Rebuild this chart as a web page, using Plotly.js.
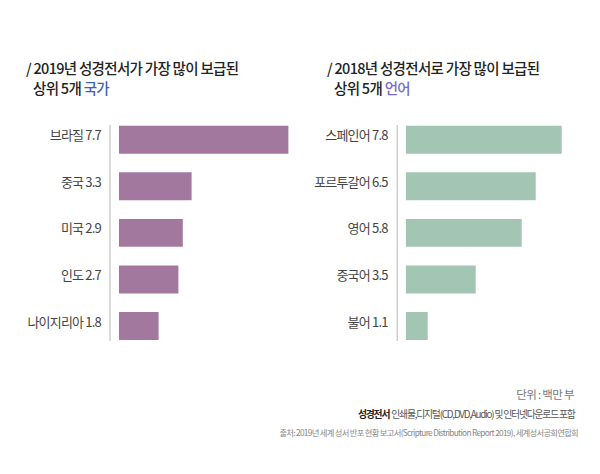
<!DOCTYPE html>
<html><head><meta charset="utf-8">
<script src="https://cdn.plot.ly/plotly-3.0.1.min.js"></script>
<style>
html,body{margin:0;padding:0;background:#fff;}
#chart{width:600px;height:474px;}
#chart .ytick text, #chart .y2tick text{letter-spacing:-0.8px;}
#chart .annotation-text{letter-spacing:-0.7px;}
#chart .annotation[data-index="5"] .annotation-text{letter-spacing:-1.2px;}
</style>
</head><body>
<div id="chart"></div>
<script>
// Left chart: 2019 top 5 countries (millions)
const countries = ['브라질', '중국', '미국', '인도', '나이지리아'];
const countryValues = [7.7, 3.3, 2.9, 2.7, 1.8];
// Right chart: 2018 top 5 languages (millions)
const languages = ['스페인어', '포르투갈어', '영어', '중국어', '불어'];
const languageValues = [7.8, 6.5, 5.8, 3.5, 1.1];

const leftTitle1 = '/ 2019년 성경전서가 가장 많이 보급된';
const leftTitle2a = '상위 5개 ';
const leftTitle2b = '국가';
const rightTitle1 = '/ 2018년 성경전서로 가장 많이 보급된';
const rightTitle2a = '상위 5개 ';
const rightTitle2b = '언어';
const unitText = '단위 : 백만 부';
const noteBold = '성경전서';
const noteText = '인쇄물,디지털(CD,DVD,Audio) 및 인터넷다운로드 포함';
const sourceText = '출처: 2019년 세계 성서 반포 현황 보고서(Scripture Distribution Report 2019), 세계성서공회연합회';

const countryLabels = countries.map((c, i) => c + ' ' + countryValues[i].toFixed(1));
const languageLabels = languages.map((c, i) => c + ' ' + languageValues[i].toFixed(1));

const FONT = '"Noto Sans CJK KR", "Noto Sans", sans-serif';

const traces = [
  {type: 'bar', orientation: 'h', x: countryValues, y: countryLabels,
   xaxis: 'x', yaxis: 'y', width: 0.6,
   marker: {color: '#a3789f', line: {width: 0}}, hoverinfo: 'none'},
  {type: 'bar', orientation: 'h', x: languageValues, y: languageLabels,
   xaxis: 'x2', yaxis: 'y2', width: 0.6,
   marker: {color: '#a3c5b3', line: {width: 0}}, hoverinfo: 'none'}
];

const yTop = 1 - 116.4 / 474, yBot = 1 - 349.3 / 474;
const yAxisCommon = {
  domain: [yBot, yTop], autorange: 'reversed', type: 'category',
  showgrid: false, zeroline: false, showline: false, ticks: '',
  tickfont: {family: FONT, size: 13, color: '#444'},
  ticklabelstandoff: 17, ticklabelshift: 4
};
const xAxisCommon = {range: [0, 8], showgrid: false, zeroline: false,
  showline: false, showticklabels: false, ticks: ''};

const NB = '\u00a0';
const titleFont = {family: FONT, size: 14.5, color: '#222', weight: 500};
function ann(text, x, y, xanchor, font) {
  return {text: text, x: x / 600, y: 1 - y / 474, xref: 'paper', yref: 'paper',
    xanchor: xanchor, yanchor: 'middle', align: xanchor, showarrow: false, font: font};
}

const layout = {
  width: 600, height: 474,
  margin: {l: 0, r: 0, t: 0, b: 0},
  paper_bgcolor: '#fff', plot_bgcolor: 'rgba(0,0,0,0)',
  showlegend: false,
  font: {family: FONT},
  xaxis: Object.assign({}, xAxisCommon, {domain: [119/600, (119+176)/600], anchor: 'y'}),
  yaxis: Object.assign({}, yAxisCommon, {anchor: 'x'}),
  xaxis2: Object.assign({}, xAxisCommon, {domain: [405.7/600, (405.7+160)/600], anchor: 'y2'}),
  yaxis2: Object.assign({}, yAxisCommon, {anchor: 'x2'}),
  shapes: [
    {type: 'line', xref: 'paper', yref: 'paper', x0: 110/600, x1: 110/600,
     y0: 1 - 125/474, y1: 1 - 341/474, line: {color: '#cfcfcf', width: 1.5}},
    {type: 'line', xref: 'paper', yref: 'paper', x0: 397.3/600, x1: 397.3/600,
     y0: 1 - 125/474, y1: 1 - 341/474, line: {color: '#cfcfcf', width: 1.5}}
  ],
  annotations: [
    ann(leftTitle1, 24, 67.5, 'left', titleFont),
    ann(leftTitle2a + '<span style="color:#3d63b5">' + leftTitle2b + '</span>', 30.5, 88, 'left', titleFont),
    ann(rightTitle1, 325, 67.5, 'left', titleFont),
    ann(rightTitle2a + '<span style="color:#7a6cc4">' + rightTitle2b + '</span>', 331.5, 88, 'left', titleFont),
    ann(unitText, 576, 394, 'right', {family: FONT, size: 11.5, color: '#777'}),
    ann('<b>' + noteBold + '</b>' + NB + NB + '<span style="color:#555">' + noteText + '</span>',
        577, 413.5, 'right', {family: FONT, size: 9.8, color: '#222'}),
    ann(sourceText, 580, 432, 'right', {family: FONT, size: 8.3, color: '#888'})
  ]
};

Plotly.newPlot('chart', traces, layout, {displayModeBar: false, staticPlot: true});
</script>
</body></html>
